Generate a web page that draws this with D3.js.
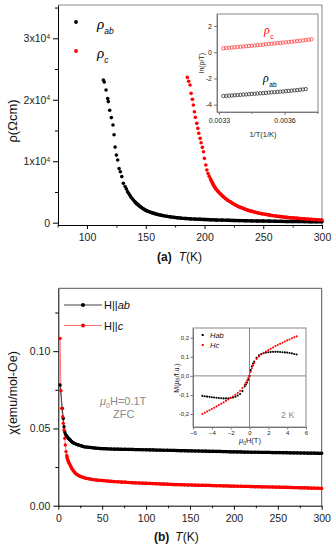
<!DOCTYPE html>
<html>
<head>
<meta charset="utf-8">
<script src="https://cdn.jsdelivr.net/npm/d3@7"></script>
<style>
body { margin: 0; background: #fff; }
svg { display: block; font-family: "Liberation Sans", Arial, sans-serif; }
</style>
</head>
<body>
<svg id="chart" width="336" height="550"></svg>
<script>
// ---- panel (a): resistivity vs T, [T (K), rho (Ohm cm)]
const rhoAb = [[113.9,23200],[114.7,22900],[116.2,21600],[117.6,20200],[118.1,19700],[119.3,18300],[120.7,17100],[122.1,15900],[123,14300],[123.9,12300],[125,11000],[126.1,10200],[127.3,8800],[128.4,8300],[129.6,7500],[130.9,6400],[132.4,5900],[133.5,5500],[134.5,5050],[135.5,4750],[136.5,4450],[137.5,4150],[138.5,3900],[139.5,3680],[140.5,3450],[141.5,3250],[142.5,3060],[143.5,2900],[145,2650],[146.5,2450],[148,2250],[149.5,2080],[151,1930],[153,1780],[155,1640],[157,1510],[159,1400],[161,1300],[163,1220],[165,1140],[168,1040],[171,950],[174,870],[177,800],[180,740],[184,680],[188,630],[192,590],[196,550],[200,520],[205,480],[210,450],[215,420],[220,390],[225,370],[230,340],[235,320],[240,300],[245,280],[250,265],[255,250],[260,235],[265,220],[270,205],[275,195],[280,185],[285,175],[290,165],[295,158],[300,150]];
const rhoC = [[185.4,23640],[186.5,23000],[187.7,22390],[188.6,21040],[189.7,20070],[190.5,19140],[191.4,18050],[192.2,17140],[193.4,16160],[194.3,15350],[195.1,14540],[196.3,13720],[197.1,13010],[198.2,12260],[199.1,11540],[199.9,10470],[201.1,9380],[202,8570],[203,8000],[204,7550],[205,7150],[206,6750],[207,6350],[208,6000],[209,5700],[210,5420],[211.5,5100],[213,4780],[214.5,4490],[216,4230],[218,3900],[220,3620],[222,3380],[224,3140],[226,2930],[228,2720],[230,2540],[232,2390],[234,2240],[236,2090],[238,1970],[240,1860],[243,1710],[246,1570],[249,1450],[252,1350],[255,1250],[258,1160],[261,1080],[264,1000],[267,930],[270,870],[273,810],[276,760],[279,715],[282,670],[285,620],[288,580],[291,540],[294,500],[297,465],[300,440]];
const xTicksA = [100, 150, 200, 250, 300];
const xMinorA = [75, 125, 175, 225, 275];
const yTicksA = [0, 10000, 20000, 30000];
const yMinorA = [5000, 15000, 25000, 35000];

// inset (a): ln(rho/T) vs 1/T
const lnAb = [[0.003320,-3.34],[0.003333,-3.33],[0.003346,-3.31],[0.003359,-3.30],[0.003372,-3.28],[0.003385,-3.27],[0.003398,-3.25],[0.003411,-3.23],[0.003424,-3.22],[0.003437,-3.20],[0.003450,-3.18],[0.003463,-3.17],[0.003476,-3.15],[0.003489,-3.13],[0.003502,-3.12],[0.003515,-3.10],[0.003528,-3.08],[0.003541,-3.06],[0.003554,-3.05],[0.003567,-3.03],[0.003580,-3.01],[0.003593,-2.99],[0.003606,-2.97],[0.003619,-2.95],[0.003632,-2.93],[0.003645,-2.91],[0.003658,-2.89],[0.003671,-2.86],[0.003684,-2.84],[0.003697,-2.81]];
const lnC = [[0.003320,0.30],[0.003333,0.32],[0.003346,0.34],[0.003359,0.36],[0.003372,0.38],[0.003385,0.40],[0.003398,0.42],[0.003411,0.44],[0.003424,0.46],[0.003437,0.48],[0.003450,0.50],[0.003463,0.52],[0.003476,0.54],[0.003489,0.56],[0.003502,0.58],[0.003515,0.61],[0.003528,0.63],[0.003541,0.65],[0.003554,0.67],[0.003567,0.69],[0.003580,0.71],[0.003593,0.74],[0.003606,0.76],[0.003619,0.78],[0.003632,0.80],[0.003645,0.83],[0.003658,0.85],[0.003671,0.88],[0.003684,0.90],[0.003697,0.93],[0.003710,0.96],[0.003723,0.99]];
const xTicksI = [0.0033, 0.0036];
const xMinorI = [0.00345, 0.00375];
const yTicksI = [2, 0, -2, -4];

// ---- panel (b): susceptibility vs T, [T (K), chi (emu/mol-Oe)]
const chiAb = [[2,0.0781],[4.6,0.063],[5.7,0.0565],[6.5,0.0511],[7.3,0.0479],[8,0.0466],[8.8,0.0457],[9.6,0.0450],[10.4,0.0444],[11.2,0.0438],[12,0.0433],[13,0.0428],[14,0.0422],[15,0.0416],[16,0.0411],[17.5,0.0406],[19,0.0402],[20.5,0.0398],[22,0.0395],[24,0.0391],[26,0.0388],[28,0.0384],[30,0.0381],[33,0.0379],[36,0.0377],[39,0.0375],[42,0.0373],[45,0.0372],[48,0.0370],[52,0.0369],[56,0.0368],[60,0.0367],[64,0.0366],[68,0.0366],[72,0.0365],[76,0.0365],[80,0.0364],[84,0.0364],[88,0.0363],[92,0.0363],[96,0.0362],[100,0.0362],[104,0.0361],[108,0.0361],[112,0.0360],[116,0.0360],[120,0.0359],[124,0.0359],[128,0.0358],[132,0.0358],[136,0.0357],[140,0.0356],[144,0.0356],[148,0.0355],[152,0.0355],[156,0.0354],[160,0.0354],[164,0.0353],[168,0.0353],[172,0.0352],[176,0.0352],[180,0.0351],[184,0.0351],[188,0.0350],[192,0.0350],[196,0.0349],[200,0.0349],[204,0.0348],[208,0.0348],[212,0.0347],[216,0.0347],[220,0.0346],[224,0.0346],[228,0.0346],[232,0.0345],[236,0.0345],[240,0.0345],[244,0.0344],[248,0.0344],[252,0.0344],[256,0.0343],[260,0.0343],[264,0.0342],[268,0.0342],[272,0.0342],[276,0.0341],[280,0.0341],[284,0.0340],[288,0.0340],[292,0.0340],[296,0.0339],[300,0.0339]];
const chiC = [[2,0.1083],[3,0.0744],[3.8,0.063],[5,0.0576],[5.7,0.0533],[6.5,0.049],[7.3,0.0436],[8,0.0393],[8.8,0.035],[9.6,0.0325],[10.3,0.0307],[11.2,0.029],[12.5,0.0274],[14,0.0257],[15.3,0.0242],[17,0.0228],[19,0.0213],[21,0.0203],[23,0.0196],[24.7,0.0191],[27,0.0186],[29.5,0.0181],[32.3,0.0177],[36,0.0173],[40,0.0169],[44,0.0166],[48,0.0164],[52,0.0162],[56,0.0160],[60,0.0158],[64,0.0156],[68,0.0155],[72,0.0153],[76,0.0152],[80,0.0150],[84,0.0149],[88,0.0148],[92,0.0147],[96,0.0146],[100,0.0145],[104,0.0144],[108,0.0143],[112,0.0142],[116,0.0141],[120,0.0140],[124,0.0139],[128,0.0138],[132,0.0137],[136,0.0137],[140,0.0136],[144,0.0135],[148,0.0134],[152,0.0134],[156,0.0133],[160,0.0132],[164,0.0132],[168,0.0131],[172,0.0131],[176,0.0130],[180,0.0129],[184,0.0129],[188,0.0128],[192,0.0128],[196,0.0127],[200,0.0127],[204,0.0126],[208,0.0126],[212,0.0125],[216,0.0125],[220,0.0124],[224,0.0123],[228,0.0123],[232,0.0122],[236,0.0122],[240,0.0121],[244,0.0121],[248,0.0120],[252,0.0120],[256,0.0119],[260,0.0119],[264,0.0118],[268,0.0117],[272,0.0117],[276,0.0116],[280,0.0116],[284,0.0115],[288,0.0114],[292,0.0114],[296,0.0113],[300,0.0112]];
const xTicksB = [0, 50, 100, 150, 200, 250, 300];
const xMinorB = [25, 75, 125, 175, 225, 275];
const yTicksB = [0, 0.05, 0.10];
const yMinorB = [0.025, 0.075, 0.125];

// inset (b): M (muB/f.u.) vs mu0H (T) at 2 K
const mAb = [[-5,-0.105],[-4.75,-0.107],[-4.5,-0.109],[-4.25,-0.110],[-4,-0.112],[-3.75,-0.113],[-3.5,-0.115],[-3.25,-0.116],[-3,-0.117],[-2.75,-0.118],[-2.5,-0.118],[-2.25,-0.117],[-2,-0.115],[-1.75,-0.113],[-1.5,-0.109],[-1.25,-0.103],[-1,-0.095],[-0.75,-0.080],[-0.5,-0.055],[-0.375,-0.045],[-0.25,-0.035],[-0.125,-0.02],[0,0],[0.125,0.03],[0.25,0.05],[0.375,0.065],[0.5,0.075],[0.75,0.095],[1,0.108],[1.25,0.115],[1.5,0.119],[1.75,0.122],[2,0.124],[2.25,0.125],[2.5,0.126],[2.75,0.126],[3,0.126],[3.25,0.125],[3.5,0.124],[3.75,0.123],[4,0.122],[4.25,0.120],[4.5,0.118],[4.75,0.115],[5,0.112]];
const mC = [[-5,-0.200],[-4.75,-0.193],[-4.5,-0.187],[-4.25,-0.180],[-4,-0.174],[-3.75,-0.167],[-3.5,-0.160],[-3.25,-0.153],[-3,-0.146],[-2.75,-0.139],[-2.5,-0.131],[-2.25,-0.124],[-2,-0.116],[-1.75,-0.108],[-1.5,-0.099],[-1.25,-0.089],[-1,-0.078],[-0.75,-0.064],[-0.5,-0.045],[-0.375,-0.035],[-0.25,-0.024],[-0.125,-0.012],[0,0],[0.125,0.02],[0.25,0.04],[0.375,0.055],[0.5,0.068],[0.75,0.088],[1,0.102],[1.25,0.112],[1.5,0.121],[1.75,0.128],[2,0.135],[2.25,0.142],[2.5,0.149],[2.75,0.156],[3,0.162],[3.25,0.168],[3.5,0.174],[3.75,0.180],[4,0.186],[4.25,0.191],[4.5,0.197],[4.75,0.202],[5,0.207]];
const xTicksM = [-6, -4, -2, 0, 2, 4, 6];
const yTicksM = [0.2, 0.1, 0, -0.1, -0.2];

const RED = '#ff0000';
const svg = d3.select('#chart');

// helper: draw an axis and style it
function axis(gen, tx, ty, opts) {
    const g = svg.append('g').attr('transform', `translate(${tx},${ty})`).call(gen);
    g.selectAll('.tick line').attr('stroke', opts.color || '#000');
    g.select('.domain').attr('stroke', opts.color || '#000');
    if (opts.noDomain) g.select('.domain').remove();
    g.selectAll('.tick text')
        .attr('font-size', opts.fontSize || 10.5)
        .attr('fill', '#222')
        .attr('font-family', '"Liberation Sans", Arial, sans-serif');
    return g;
}

function edges(x0, y0, x1, y1, color) {
    svg.append('path')
        .attr('d', `M${x0},${y0}H${x1}V${y1}`)
        .attr('fill', 'none')
        .attr('stroke', color);
}

// ================= panel (a) =================
const xA = d3.scaleLinear().domain([75.3, 300]).range([58, 322]);
const yA = d3.scaleLinear().domain([-374, 35416]).range([225, 5]);

edges(58, 5, 322, 225, '#888');
axis(d3.axisBottom(xA).tickValues(xMinorA).tickSize(2.5).tickFormat(''), 0, 225, {noDomain: true});
axis(d3.axisBottom(xA).tickValues(xTicksA).tickSize(4).tickSizeOuter(0).tickPadding(5), 0, 225, {});
axis(d3.axisLeft(yA).tickValues(yMinorA).tickSize(3).tickFormat(''), 58, 0, {noDomain: true});
const yAxA = axis(d3.axisLeft(yA).tickValues(yTicksA).tickSize(5).tickSizeOuter(0).tickPadding(3), 58, 0, {});
yAxA.selectAll('.tick text').each(function (d) {
    if (d === 0) return;
    const t = d3.select(this).text('');
    t.append('tspan').text((d / 1e4) + 'x10');
    t.append('tspan').attr('dy', '-0.5em').attr('font-size', 6.5).text('4');
});

// dense part drawn as a band, the measured points on top
const band = (x, y) => d3.line().x(d => x(d[0])).y(d => y(d[1]));
svg.append('path').datum(rhoAb.filter(d => d[0] >= 140))
    .attr('d', band(xA, yA)).attr('fill', 'none').attr('stroke', '#000').attr('stroke-width', 3.4);
svg.append('path').datum(rhoC.filter(d => d[0] >= 205))
    .attr('d', band(xA, yA)).attr('fill', 'none').attr('stroke', RED).attr('stroke-width', 3.4);
svg.append('g').selectAll('circle').data(rhoAb).join('circle')
    .attr('cx', d => xA(d[0])).attr('cy', d => yA(d[1])).attr('r', 1.8).attr('fill', '#000');
svg.append('g').selectAll('circle').data(rhoC).join('circle')
    .attr('cx', d => xA(d[0])).attr('cy', d => yA(d[1])).attr('r', 1.8).attr('fill', RED);

// legend (a)
svg.append('circle').attr('cx', 76).attr('cy', 22).attr('r', 1.9).attr('fill', '#000');
svg.append('circle').attr('cx', 76).attr('cy', 51).attr('r', 1.9).attr('fill', RED);
const legA = [{y: 29, sub: 'ab'}, {y: 58, sub: 'c'}];
legA.forEach(l => {
    const t = svg.append('text').attr('x', 97).attr('y', l.y).attr('fill', '#000');
    t.append('tspan').attr('font-family', '"Liberation Serif", serif').attr('font-style', 'italic')
        .attr('font-size', 15).text('ρ');
    t.append('tspan').attr('font-style', 'italic').attr('font-size', 8.5).attr('dy', 5).text(l.sub);
});

// axis titles (a)
svg.append('text').attr('transform', 'translate(17,121) rotate(-90)').attr('text-anchor', 'middle')
    .attr('font-size', 13).attr('fill', '#111').text('ρ(Ωcm)');
const tA = svg.append('text').attr('x', 157).attr('y', 261).attr('font-size', 12).attr('fill', '#111');
tA.append('tspan').attr('font-weight', 'bold').text('(a)');
tA.append('tspan').attr('dx', 7).attr('font-style', 'italic').text('T');
tA.append('tspan').text('(K)');

// ---- inset (a)
const xI = d3.scaleLinear().domain([0.003291, 0.003753]).range([217, 318]);
const yI = d3.scaleLinear().domain([2.92, -4.56]).range([14, 112]);
svg.append('rect').attr('x', 217).attr('y', 14).attr('width', 101).attr('height', 98)
    .attr('fill', '#fff').attr('stroke', '#888');
axis(d3.axisBottom(xI).tickValues(xMinorI).tickSize(2).tickFormat(''), 0, 112, {noDomain: true, color: '#777'});
axis(d3.axisBottom(xI).tickValues(xTicksI).tickSize(3).tickSizeOuter(0).tickPadding(3)
    .tickFormat(d3.format('.4f')), 0, 112, {fontSize: 7, color: '#777'});
axis(d3.axisLeft(yI).tickValues(yTicksI).tickSize(3).tickSizeOuter(0).tickPadding(2)
    .tickFormat(d => String(d)), 217, 0, {fontSize: 7, color: '#777'});
svg.append('g').selectAll('circle').data(lnC).join('circle')
    .attr('cx', d => xI(d[0])).attr('cy', d => yI(d[1])).attr('r', 1.7)
    .attr('fill', 'none').attr('stroke', '#f44').attr('stroke-width', 0.8);
svg.append('g').selectAll('circle').data(lnAb).join('circle')
    .attr('cx', d => xI(d[0])).attr('cy', d => yI(d[1])).attr('r', 1.7)
    .attr('fill', 'none').attr('stroke', '#333').attr('stroke-width', 0.8);
[{x: 264, y: 34, sub: 'c', c: RED}, {x: 263, y: 82, sub: 'ab', c: '#000'}].forEach(l => {
    const t = svg.append('text').attr('x', l.x).attr('y', l.y).attr('fill', l.c);
    t.append('tspan').attr('font-family', '"Liberation Serif", serif').attr('font-style', 'italic')
        .attr('font-size', 12).text('ρ');
    t.append('tspan').attr('font-size', 6.5).attr('dy', 5).attr('dx', 0.5).text(l.sub);
});
svg.append('text').attr('transform', 'translate(204,63) rotate(-90)').attr('text-anchor', 'middle')
    .attr('font-size', 7).attr('fill', '#222').text('ln(ρ/T)');
svg.append('text').attr('x', 263).attr('y', 137).attr('text-anchor', 'middle')
    .attr('font-size', 7.5).attr('fill', '#222').text('1/T(1/K)');

// ================= panel (b) =================
const xB = d3.scaleLinear().domain([0, 300]).range([58.3, 321.7]);
const yB = d3.scaleLinear().domain([0, 0.1407]).range([505.7, 288.3]);

edges(58.3, 288.3, 321.7, 505.7, '#555');
axis(d3.axisBottom(xB).tickValues(xMinorB).tickSize(2.5).tickFormat(''), 0, 505.7, {noDomain: true});
axis(d3.axisBottom(xB).tickValues(xTicksB).tickSize(4).tickSizeOuter(0).tickPadding(5), 0, 505.7, {});
axis(d3.axisLeft(yB).tickValues(yMinorB).tickSize(3).tickFormat(''), 58.3, 0, {noDomain: true});
axis(d3.axisLeft(yB).tickValues(yTicksB).tickSize(5).tickSizeOuter(0).tickPadding(3)
    .tickFormat(d3.format('.2f')), 58.3, 0, {});

const lineB = d3.line().x(d => xB(d[0])).y(d => yB(d[1]));
svg.append('path').datum(chiC).attr('d', lineB).attr('fill', 'none').attr('stroke', '#ff7070').attr('stroke-width', 1);
svg.append('path').datum(chiAb).attr('d', lineB).attr('fill', 'none').attr('stroke', '#444').attr('stroke-width', 1);
svg.append('path').datum(chiAb.filter(d => d[0] >= 9)).attr('d', lineB).attr('fill', 'none')
    .attr('stroke', '#000').attr('stroke-width', 3.2);
svg.append('path').datum(chiC.filter(d => d[0] >= 9)).attr('d', lineB).attr('fill', 'none')
    .attr('stroke', RED).attr('stroke-width', 3.2);
svg.append('g').selectAll('circle').data(chiAb).join('circle')
    .attr('cx', d => xB(d[0])).attr('cy', d => yB(d[1])).attr('r', 1.7).attr('fill', '#000');
svg.append('g').selectAll('circle').data(chiC).join('circle')
    .attr('cx', d => xB(d[0])).attr('cy', d => yB(d[1])).attr('r', 1.7).attr('fill', RED);

// legend (b)
[{y: 305, c: '#000', lc: '#444', sub: 'ab'}, {y: 325.5, c: RED, lc: '#ff7070', sub: 'c'}].forEach(l => {
    svg.append('line').attr('x1', 64).attr('x2', 102).attr('y1', l.y).attr('y2', l.y)
        .attr('stroke', l.lc).attr('stroke-width', 1);
    svg.append('circle').attr('cx', 83).attr('cy', l.y).attr('r', 2).attr('fill', l.c);
    const t = svg.append('text').attr('x', 104).attr('y', l.y + 4).attr('font-size', 11).attr('fill', '#111');
    t.append('tspan').text('H||');
    t.append('tspan').attr('font-style', 'italic').text(l.sub);
});

// field annotation
const ann = svg.append('text').attr('x', 100).attr('y', 405).attr('font-size', 11).attr('fill', '#888');
ann.append('tspan').attr('font-style', 'italic').text('μ');
ann.append('tspan').attr('font-size', 7).attr('dy', 3).text('0');
ann.append('tspan').attr('dy', -3).text('H=0.1T');
svg.append('text').attr('x', 113).attr('y', 418).attr('font-size', 11).attr('fill', '#888').text('ZFC');

// axis titles (b)
svg.append('text').attr('transform', 'translate(17,393) rotate(-90)').attr('text-anchor', 'middle')
    .attr('font-size', 12.5).attr('fill', '#111').text('χ(emu/mol-Oe)');
const tB = svg.append('text').attr('x', 154).attr('y', 541).attr('font-size', 12).attr('fill', '#111');
tB.append('tspan').attr('font-weight', 'bold').text('(b)');
tB.append('tspan').attr('dx', 6).attr('font-style', 'italic').text('T');
tB.append('tspan').text('(K)');

// ---- inset (b)
const xM = d3.scaleLinear().domain([-6, 6]).range([193, 306]);
const yM = d3.scaleLinear().domain([-0.268, 0.251]).range([427, 328]);
svg.append('rect').attr('x', 193).attr('y', 328).attr('width', 113).attr('height', 99)
    .attr('fill', '#fff').attr('stroke', '#888');
svg.append('line').attr('x1', xM(0)).attr('x2', xM(0)).attr('y1', 328).attr('y2', 427).attr('stroke', '#888');
svg.append('line').attr('x1', 193).attr('x2', 306).attr('y1', yM(0)).attr('y2', yM(0)).attr('stroke', '#888');
axis(d3.axisBottom(xM).tickValues(xTicksM).tickSize(2.5).tickSizeOuter(0).tickPadding(1), 0, 427,
    {fontSize: 6, color: '#777'});
axis(d3.axisLeft(yM).tickValues(yTicksM).tickSize(2.5).tickSizeOuter(0).tickPadding(1.5)
    .tickFormat(d => d3.format('.1f')(d).replace('.', ',').replace('−', '-')), 193, 0,
    {fontSize: 6, color: '#777'});
svg.append('g').selectAll('circle').data(mAb).join('circle')
    .attr('cx', d => xM(d[0])).attr('cy', d => yM(d[1])).attr('r', 1.05).attr('fill', '#000');
svg.append('g').selectAll('circle').data(mC).join('circle')
    .attr('cx', d => xM(d[0])).attr('cy', d => yM(d[1])).attr('r', 1.05).attr('fill', RED);
svg.append('rect').attr('x', 201.7).attr('y', 334).attr('width', 2).attr('height', 2).attr('fill', '#000');
svg.append('rect').attr('x', 201.7).attr('y', 344).attr('width', 2).attr('height', 2).attr('fill', RED);
svg.append('text').attr('x', 210).attr('y', 338).attr('font-size', 7.5).attr('font-style', 'italic')
    .attr('fill', '#111').text('Hab');
svg.append('text').attr('x', 210).attr('y', 348).attr('font-size', 7.5).attr('font-style', 'italic')
    .attr('fill', '#111').text('Hc');
svg.append('text').attr('x', 281).attr('y', 418).attr('font-size', 9).attr('fill', '#888').text('2 K');
const mx = svg.append('text').attr('x', 250).attr('y', 443).attr('text-anchor', 'middle')
    .attr('font-size', 7.5).attr('fill', '#222');
mx.append('tspan').attr('font-style', 'italic').text('μ');
mx.append('tspan').attr('font-size', 5).attr('dy', 1.5).text('0');
mx.append('tspan').attr('dy', -1.5).text('H(T)');
const my = svg.append('text').attr('transform', 'translate(178.5,378) rotate(-90)').attr('text-anchor', 'middle')
    .attr('font-size', 7).attr('fill', '#222');
my.append('tspan').text('M(');
my.append('tspan').attr('font-style', 'italic').text('μ');
my.append('tspan').attr('font-size', 5).attr('dy', 1.5).text('B');
my.append('tspan').attr('dy', -1.5).text('/f.u.)');
</script>
</body>
</html>
